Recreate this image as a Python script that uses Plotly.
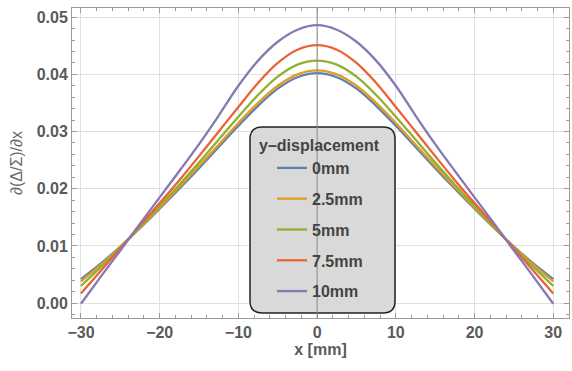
import plotly.graph_objects as go

x_mm = [-30, -27.5, -25, -22.5, -20, -17.5, -15, -12.5, -10, -7.5, -5, -2.5, 0,
        2.5, 5, 7.5, 10, 12.5, 15, 17.5, 20, 22.5, 25, 27.5, 30]

half_0mm = [0.0042, 0.0069, 0.0099, 0.0131, 0.0165, 0.0200, 0.0236, 0.0273, 0.0310, 0.0345, 0.0375, 0.0395, 0.0402]
half_2p5mm = [0.0038, 0.0067, 0.0098, 0.0132, 0.0167, 0.0203, 0.0240, 0.0277, 0.0315, 0.0350, 0.0380, 0.0400, 0.0407]
half_5mm = [0.0030, 0.0063, 0.0097, 0.0133, 0.0170, 0.0207, 0.0246, 0.0286, 0.0326, 0.0364, 0.0396, 0.0417, 0.0424]
half_7p5mm = [0.0017, 0.0056, 0.0096, 0.0136, 0.0175, 0.0215, 0.0257, 0.0300, 0.0343, 0.0385, 0.0420, 0.0443, 0.0451]
half_10mm = [-0.0001, 0.0046, 0.0092, 0.0139, 0.0185, 0.0231, 0.0278, 0.0328, 0.0380, 0.0424, 0.0457, 0.0478, 0.0486]

def sym(h):
    return h + h[-2::-1]

series_names = ["0mm", "2.5mm", "5mm", "7.5mm", "10mm"]
series_values = [sym(half_0mm), sym(half_2p5mm), sym(half_5mm), sym(half_7p5mm), sym(half_10mm)]
series_colors = ["#5E81B5", "#E19C24", "#8FB032", "#EB6235", "#8778B3"]
legend_title = "y–displacement"

x_tick_vals = [-30, -20, -10, 0, 10, 20, 30]
y_tick_vals = [0.0, 0.01, 0.02, 0.03, 0.04, 0.05]

FONT = "Liberation Sans"
fig = go.Figure()
for i, (name, vals, col) in enumerate(zip(series_names, series_values, series_colors)):
    fig.add_trace(go.Scatter(x=x_mm, y=vals, name=name, mode="lines",
                             line=dict(color=col, width=2.3, shape="spline", smoothing=1.0),
                             legendgroup=f"g{i}"))

W, H = 572, 371
L, R, T, B = 72, 3, 8, 53
pw, ph = W - L - R, H - T - B

def px_x(p):
    return (p - L) / pw

def px_y(p):
    return (H - B - p) / ph

axis_common = dict(showline=True, linecolor="#9a9a9a", linewidth=1, mirror="ticks",
                   ticks="inside", ticklen=5, tickcolor="#9a9a9a", showgrid=True,
                   gridcolor="#e0e0e0", gridwidth=1, automargin=False,
                   tickfont=dict(family=FONT, size=16, color="#5a5a5a", weight="bold"))

fig.update_xaxes(range=[-31.14, 32.0], tickvals=x_tick_vals, zeroline=False,
                 minor=dict(dtick=2, tick0=0, ticklen=3, ticks="inside", tickcolor="#9a9a9a", showgrid=False),
                 title=dict(text="x [mm]", font=dict(family=FONT, size=16, color="#5a5a5a", weight="bold"), standoff=3),
                 **axis_common)
fig.update_yaxes(range=[-0.0026, 0.0516], tickvals=y_tick_vals, tickformat=".2f", zeroline=False,
                 minor=dict(dtick=0.002, tick0=0, ticklen=3, ticks="inside", tickcolor="#9a9a9a", showgrid=False),
                 title=dict(text="∂(Δ/Σ)/∂x", font=dict(family=FONT, size=16, color="#6a6a6a"), standoff=10),
                 **axis_common)

# legend box (rounded) in paper coords
lx0, lx1 = px_x(250), px_x(395)
ly1, ly0 = px_y(127), px_y(313)
rx, ry = 12 / pw, 12 / ph
path = (f"M {lx0+rx},{ly1} L {lx1-rx},{ly1} Q {lx1},{ly1} {lx1},{ly1-ry} "
        f"L {lx1},{ly0+ry} Q {lx1},{ly0} {lx1-rx},{ly0} L {lx0+rx},{ly0} "
        f"Q {lx0},{ly0} {lx0},{ly0+ry} L {lx0},{ly1-ry} Q {lx0},{ly1} {lx0+rx},{ly1} Z")
fig.add_shape(type="path", path=path, xref="paper", yref="paper",
              fillcolor="#d9d9d9", line=dict(color="#222222", width=1.5), layer="above")
fig.add_shape(type="line", x0=0, x1=0, y0=0, y1=1, xref="x", yref="paper",
              line=dict(color="#8a8a8a", width=1), layer="above")
fig.add_annotation(text=f"<b>{legend_title}</b>", xref="paper", yref="paper",
                   x=px_x(257), y=px_y(145), xanchor="left", yanchor="middle", showarrow=False,
                   font=dict(family=FONT, size=16, color="#444444"))

fig.update_layout(
    width=W, height=H, margin=dict(l=L, r=R, t=T, b=B),
    paper_bgcolor="white", plot_bgcolor="white",
    font=dict(family=FONT),
    legend=dict(x=px_x(272), y=px_y(151), xanchor="left", yanchor="top",
                bgcolor="rgba(0,0,0,0)", borderwidth=0, tracegroupgap=7,
                traceorder="grouped", itemwidth=30,
                font=dict(family=FONT, size=16, color="#444444", weight="bold")),
)

fig.write_html("out.html", config={"displayModeBar": False},
               post_script="document.body.style.margin='0';document.body.style.overflow='hidden';")
